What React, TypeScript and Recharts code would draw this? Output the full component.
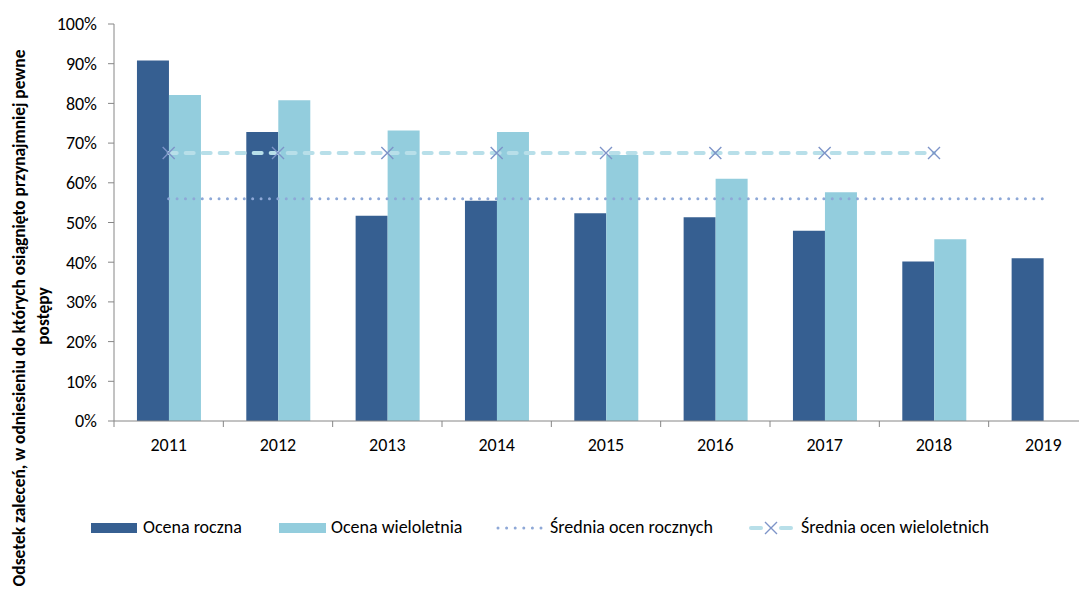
import { ComposedChart, Bar, Line, XAxis, YAxis, Legend } from "recharts";

const years = ["2011", "2012", "2013", "2014", "2015", "2016", "2017", "2018", "2019"];
const annual = [90.8, 72.8, 51.7, 55.5, 52.3, 51.3, 47.9, 40.2, 41.0];
const multiYear = [82.1, 80.8, 73.2, 72.8, 67.0, 61.0, 57.6, 45.8, null];
const annualAvg = [56.0, 56.0, 56.0, 56.0, 56.0, 56.0, 56.0, 56.0, 56.0];
const multiYearAvg = [67.5, 67.5, 67.5, 67.5, 67.5, 67.5, 67.5, 67.5, null];
const yTicks = [0, 10, 20, 30, 40, 50, 60, 70, 80, 90, 100];

const seriesNames = [
  "Ocena roczna",
  "Ocena wieloletnia",
  "Średnia ocen rocznych",
  "Średnia ocen wieloletnich",
];
const yTitle = "Odsetek zaleceń, w odniesieniu do których osiągnięto przynajmniej pewne";
const yTitle2 = "postępy";

const data = years.map((year, i) => ({
  year,
  annual: annual[i],
  multiYear: multiYear[i],
  annualAvg: annualAvg[i],
  multiYearAvg: multiYearAvg[i],
}));

const FONT = "Carlito, Lato, sans-serif";
const DARK = "#365f91";
const LIGHT = "#93cddd";
const DOTS = "#8ea8d7";
const DASH = "#b8dfe9";
const CROSS = "#7d94c8";
const AXIS = "#868686";

function YearTick(props: any) {
  const { x, y, payload, index, visibleTicksCount } = props;
  const off = payload.offset ?? 0;
  return (
    <g>
      <line x1={x - off} x2={x - off} y1={y} y2={y + 6} stroke={AXIS} />
      {index === visibleTicksCount - 1 && (
        <line x1={x + off} x2={x + off} y1={y} y2={y + 6} stroke={AXIS} />
      )}
      <text x={x} y={y + 30} textAnchor="middle" fill="#000" fontSize={18} fontFamily={FONT}>
        {payload.value}
      </text>
    </g>
  );
}

function CrossDot(props: any) {
  const { cx, cy, value } = props;
  if (value == null || cx == null || cy == null) return <g />;
  const s = 6;
  return (
    <path
      d={`M${cx - s},${cy - s}L${cx + s},${cy + s}M${cx - s},${cy + s}L${cx + s},${cy - s}`}
      stroke={CROSS}
      strokeWidth={1.4}
      strokeDasharray="none"
      fill="none"
    />
  );
}

function YTitle() {
  return (
    <g fontFamily={FONT} fontWeight="bold" fontSize={17.4} fill="#000">
      <text x={11} y={310} transform="rotate(-90 11 310)" textAnchor="middle" dominantBaseline="central">
        {yTitle}
      </text>
      <text x={35} y={308} transform="rotate(-90 35 308)" textAnchor="middle" dominantBaseline="central">
        {yTitle2}
      </text>
    </g>
  );
}

function LegendBox() {
  const text = { position: "absolute" as const, top: 0, lineHeight: "20px", whiteSpace: "nowrap" as const };
  return (
    <div style={{ position: "relative", width: 1000, height: 20, fontFamily: FONT, fontSize: 18, color: "#000" }}>
      <div style={{ position: "absolute", left: 83, top: 6, width: 46, height: 10, background: DARK }} />
      <span style={{ ...text, left: 135 }}>{seriesNames[0]}</span>
      <div style={{ position: "absolute", left: 271, top: 6, width: 47, height: 10, background: LIGHT }} />
      <span style={{ ...text, left: 323 }}>{seriesNames[1]}</span>
      <svg style={{ position: "absolute", left: 488, top: 0 }} width={48} height={20}>
        <line x1={2} x2={46} y1={11} y2={11} stroke={DOTS} strokeWidth={3} strokeLinecap="round" strokeDasharray="0 8.6" />
      </svg>
      <span style={{ ...text, left: 542 }}>{seriesNames[2]}</span>
      <svg style={{ position: "absolute", left: 739, top: 0 }} width={50} height={20}>
        <line x1={4} x2={14} y1={11} y2={11} stroke={DASH} strokeWidth={4} strokeLinecap="round" />
        <line x1={34} x2={44} y1={11} y2={11} stroke={DASH} strokeWidth={4} strokeLinecap="round" />
        <path d="M18,5L30,17M18,17L30,5" stroke={CROSS} strokeWidth={1.4} fill="none" />
      </svg>
      <span style={{ ...text, left: 793 }}>{seriesNames[3]}</span>
    </div>
  );
}

export default function App() {
  return (
    <div style={{ width: 1079, height: 588, overflow: "hidden" }}>
      <ComposedChart
        width={1100}
        height={588}
        data={data}
        margin={{ top: 16, right: 10, left: 0, bottom: 135 }}
        barCategoryGap="21%"
        barGap={0}
      >
        <XAxis
          dataKey="year"
          height={40}
          axisLine={{ stroke: AXIS }}
          tickLine={false}
          tickSize={0}
          tickMargin={0}
          tick={<YearTick />}
          interval={0}
        />
        <YAxis
          width={106}
          domain={[0, 100]}
          ticks={yTicks}
          interval={0}
          tickFormatter={(v: number) => `${v}%`}
          axisLine={{ stroke: AXIS }}
          tickLine={{ stroke: AXIS }}
          tickSize={6}
          tickMargin={11}
          tick={{ fill: "#000", fontSize: 18, fontFamily: FONT }}
          label={<YTitle />}
        />
        <Legend verticalAlign="middle" wrapperStyle={{ top: 509, left: 0 }} content={<LegendBox />} />
        <Bar dataKey="annual" name={seriesNames[0]} fill={DARK} isAnimationActive={false} />
        <Bar dataKey="multiYear" name={seriesNames[1]} fill={LIGHT} isAnimationActive={false} />
        <Line
          dataKey="annualAvg"
          name={seriesNames[2]}
          stroke={DOTS}
          strokeWidth={3}
          strokeLinecap="round"
          strokeDasharray="0 8.4"
          dot={false}
          activeDot={false}
          isAnimationActive={false}
        />
        <Line
          dataKey="multiYearAvg"
          name={seriesNames[3]}
          stroke={DASH}
          strokeWidth={4}
          strokeLinecap="round"
          strokeDasharray="8 9"
          dot={<CrossDot />}
          activeDot={false}
          isAnimationActive={false}
        />
      </ComposedChart>
    </div>
  );
}
